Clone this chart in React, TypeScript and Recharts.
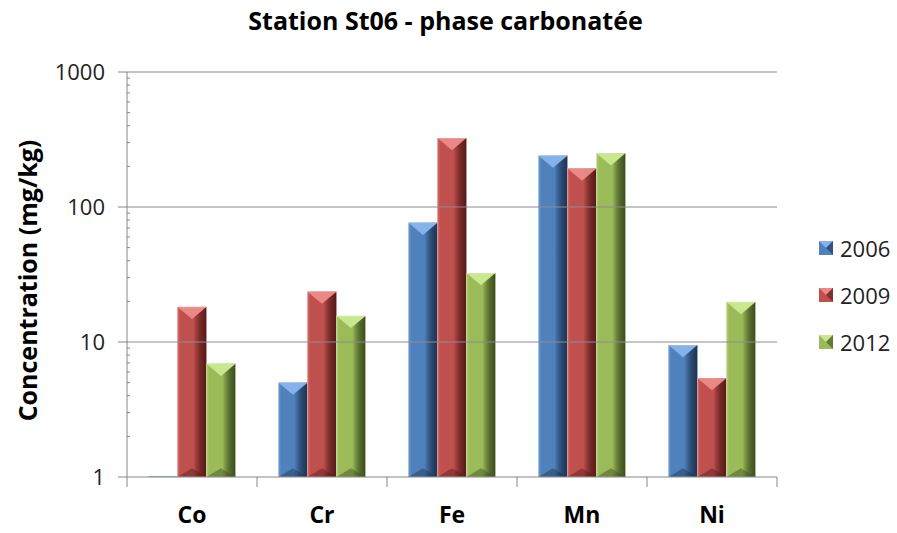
import React from 'react';
import { Bar, BarChart, Label, Legend, ReferenceLine, XAxis, YAxis } from 'recharts';

// Station St06 - carbonate phase, log scale concentrations
const elements = ['Co', 'Cr', 'Fe', 'Mn', 'Ni'];
const years = ['2006', '2009', '2012'];
const values2006 = [1, 5.0, 76.5, 240, 9.5];
const values2009 = [18.2, 23.6, 324, 193, 5.4];
const values2012 = [6.9, 15.6, 32.4, 250, 19.8];
const majorTicks = [1, 10, 100, 1000];
const minorTicks = [2, 3, 4, 5, 6, 7, 8, 9, 20, 30, 40, 50, 60, 70, 80, 90, 200, 300, 400, 500, 600, 700, 800, 900];
const gridLines = [10, 100, 1000];

const palette: Record<string, { base: string; light: string; dark: string; top: string }> = {
  '2006': { base: '#4f81bd', light: '#6f9ad0', dark: '#1c3352', top: '#86b2ea' },
  '2009': { base: '#c0504d', light: '#d66d6a', dark: '#561a18', top: '#ea8885' },
  '2012': { base: '#9bbb59', light: '#b2d071', dark: '#3b4d1c', top: '#c9e88e' },
};

const CHART_W = 897;
const CHART_H = 533;
const margin = { top: 72, right: 120, left: 0, bottom: 0 };
const Y_AXIS_W = 127;
const PLOT_W = CHART_W - margin.left - margin.right - Y_AXIS_W;
const FONT = '"Open Sans", "Noto Sans", sans-serif';

const data = elements.map((el, i) => ({
  name: el,
  '2006': values2006[i],
  '2009': values2009[i],
  '2012': values2012[i],
}));

function BevelBar(props: any) {
  const { x, y, width, height, year, index } = props;
  const c = palette[year];
  const id = `g-${year}-${index}`;
  if (!(height > 1)) {
    return <line x1={x} x2={x + width} y1={y + (height || 0)} y2={y + (height || 0)} stroke={c.light} strokeWidth={1.5} />;
  }
  const d = Math.min(width * 0.42, height / 2);
  const db = Math.min(width * 0.3, height / 3);
  return (
    <g>
      <defs>
        <linearGradient id={id} x1="0" y1="0" x2="1" y2="0">
          <stop offset="0%" stopColor={c.light} />
          <stop offset="10%" stopColor={c.base} />
          <stop offset="55%" stopColor={c.base} />
          <stop offset="82%" stopColor={c.dark} stopOpacity={0.75} />
          <stop offset="100%" stopColor={c.dark} />
        </linearGradient>
      </defs>
      <rect x={x} y={y} width={width} height={height} fill={c.base} />
      <rect x={x} y={y} width={width} height={height} fill={`url(#${id})`} />
      <polygon points={`${x},${y} ${x + width},${y} ${x + width / 2},${y + d}`} fill={c.top} />
      <polygon
        points={`${x},${y + height} ${x + width},${y + height} ${x + width / 2},${y + height - db}`}
        fill={c.dark}
        fillOpacity={0.45}
      />
      <rect x={x} y={y} width={width} height={height} fill="none" stroke="#ffffff" strokeOpacity={0.35} strokeWidth={0.8} />
    </g>
  );
}

function YTick(props: any) {
  const { x, y, payload } = props;
  const major = majorTicks.includes(payload.value);
  if (!major) {
    return <line x1={x} x2={x + 3} y1={y} y2={y} stroke="#868686" />;
  }
  return (
    <g>
      <line x1={x - 9} x2={x} y1={y} y2={y} stroke="#868686" />
      <text x={x - 22} y={y} dy="0.36em" textAnchor="end" fontFamily={FONT} fontSize={22} fill="#222">
        {payload.value}
      </text>
    </g>
  );
}

function XTick(props: any) {
  const { x, y, payload, index } = props;
  const band = PLOT_W / elements.length;
  return (
    <g>
      <line x1={x - band / 2} x2={x - band / 2} y1={y} y2={y + 10} stroke="#868686" />
      {index === elements.length - 1 && (
        <line x1={x + band / 2} x2={x + band / 2} y1={y} y2={y + 10} stroke="#868686" />
      )}
      <text x={x} y={y + 38} dy="0.36em" textAnchor="middle" fontFamily={FONT} fontSize={23} fontWeight="bold" fill="#000">
        {payload.value}
      </text>
    </g>
  );
}

function LegendBox() {
  return (
    <div style={{ fontFamily: FONT }}>
      {years.map(yr => (
        <div key={yr} style={{ display: 'flex', alignItems: 'center', height: 47 }}>
          <svg width={14} height={14} style={{ marginRight: 7 }}>
            <rect x={0} y={0} width={14} height={14} fill={palette[yr].base} />
            <polygon points="0,0 14,0 7,7" fill={palette[yr].top} />
            <polygon points="14,0 14,14 7,7" fill={palette[yr].dark} fillOpacity={0.6} />
          </svg>
          <span style={{ fontSize: 22, color: '#222' }}>{yr}</span>
        </div>
      ))}
    </div>
  );
}

export default function App() {
  return (
    <div style={{ position: 'absolute', left: 0, top: 0, width: CHART_W, height: CHART_H, background: '#fff' }}>
      <div
        style={{
          position: 'absolute',
          left: 0,
          top: 3,
          width: CHART_W - 6,
          textAlign: 'center',
          fontFamily: FONT,
          fontWeight: 'bold',
          fontSize: 25,
          color: '#000',
        }}
      >
        Station St06 - phase carbonatée
      </div>
      <BarChart width={CHART_W} height={CHART_H} data={data} margin={margin} barCategoryGap="16.5%" barGap={0}>
        {gridLines.map(v => (
          <ReferenceLine key={v} y={v} stroke="#8c8c8c" strokeWidth={1} />
        ))}
        <XAxis
          dataKey="name"
          height={56}
          tickSize={0}
          tickMargin={0}
          tickLine={false}
          axisLine={{ stroke: '#868686' }}
          tick={<XTick />}
          interval={0}
        />
        <YAxis
          scale="log"
          domain={[1, 1000]}
          ticks={[...majorTicks, ...minorTicks].sort((a, b) => a - b)}
          interval={0}
          width={Y_AXIS_W}
          tickSize={0}
          tickMargin={0}
          tickLine={false}
          axisLine={{ stroke: '#868686' }}
          tick={<YTick />}
          allowDataOverflow
        >
          <Label
            content={(p: any) => {
              const vb = p.viewBox || { x: 0, y: margin.top, height: 405 };
              const cx = vb.x + 28;
              const cy = vb.y + vb.height / 2 + 6;
              return (
                <text
                  x={cx}
                  y={cy}
                  transform={`rotate(-90 ${cx} ${cy})`}
                  textAnchor="middle"
                  dy="0.36em"
                  fontFamily={FONT}
                  fontSize={25}
                  fontWeight="bold"
                  fill="#000"
                >
                  Concentration (mg/kg)
                </text>
              );
            }}
          />
        </YAxis>
        <Legend
          layout="horizontal"
          align="center"
          verticalAlign="middle"
          content={<LegendBox />}
          wrapperStyle={{ left: 819, top: 224, width: 80, height: 141 }}
        />
        {years.map(yr => (
          <Bar
            key={yr}
            dataKey={yr}
            name={yr}
            fill={palette[yr].base}
            isAnimationActive={false}
            shape={(p: any) => <BevelBar {...p} year={yr} />}
          />
        ))}
      </BarChart>
    </div>
  );
}
